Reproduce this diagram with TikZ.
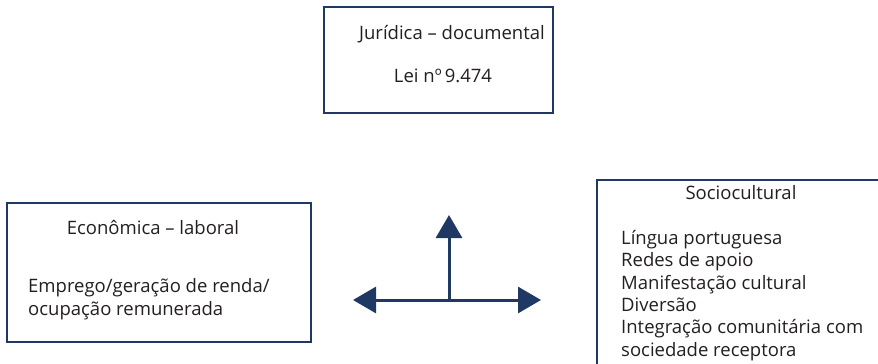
\documentclass[tikz,border=0pt]{standalone}
\usepackage{fontspec}
\setmainfont{Open Sans}
\usetikzlibrary{arrows.meta}
\definecolor{navy}{RGB}{31,56,100}
\definecolor{ink}{RGB}{35,31,32}
\begin{document}
\begin{tikzpicture}[x=1pt,y=-1pt,
  box/.style={draw=navy, line width=2pt, inner sep=0, fill=none},
  txt/.style={font=\fontsize{18.5}{22}\selectfont, text=ink, inner sep=0, anchor=base},
  ltxt/.style={txt, anchor=base west},
  arr/.style={draw=navy, line width=3pt, -{Triangle[length=23pt,width=26pt]}}]
\useasboundingbox (0,0) rectangle (878,364);
\clip (0,0) rectangle (878,364);
% boxes
\node[box, minimum width=229pt, minimum height=106pt] (top) at (438.5,60) {};
\node[box, minimum width=304pt, minimum height=139pt] (left) at (159,272.5) {};
\node[box, minimum width=320pt, minimum height=220pt] (right) at (757,290) {};
% texts
\node[txt] (t1) at (452,39) {Jurídica – documental};
\node[txt] (t2) at (443,82) {Lei nº\,9.474};
\node[txt] (l1) at (153,234) {Econômica – laboral};
\node[ltxt] (l2) at (28,292) {Emprego/geração de renda/};
\node[ltxt] (l3) at (28,315) {ocupação remunerada};
\node[txt] (r0) at (741,199) {Sociocultural};
\node[ltxt] (r1) at (621,244) {Língua portuguesa};
\node[ltxt] (r2) at (621,266) {Redes de apoio};
\node[ltxt] (r3) at (621,289) {Manifestação cultural};
\node[ltxt] (r4) at (621,311) {Diversão};
\node[ltxt] (r5) at (621,333) {Integração comunitária com};
\node[ltxt] (r6) at (621,356) {sociedade receptora};
% arrows
\coordinate (c) at (449,300);
\coordinate (up) at (449,215);
\coordinate (lt) at (353,300);
\coordinate (rt) at (541,300);
\draw[arr] (c) -- (up);
\draw[arr] (c) -- (lt);
\draw[arr] (c) -- (rt);
\end{tikzpicture}
\end{document}
